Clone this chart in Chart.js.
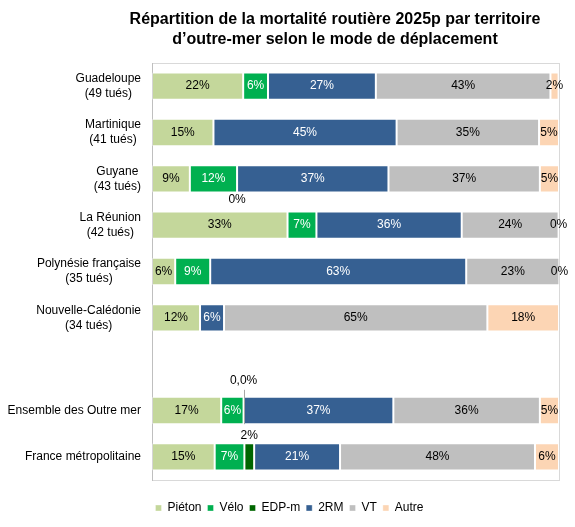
<!DOCTYPE html>
<html lang="fr">
<head>
<meta charset="utf-8">
<title>Mortalité routière outre-mer 2025p</title>
<script src="https://cdn.jsdelivr.net/npm/chart.js@4.4.1/dist/chart.umd.min.js"></script>
<style>
  html, body { margin: 0; padding: 0; background: #fff; }
</style>
</head>
<body>
<canvas id="chart" width="575" height="527"></canvas>
<script>
/** Territories (one empty row separates the overseas totals) */
const territories = [
  ['Guadeloupe', '(49 tués)'],
  ['Martinique', '(41 tués)'],
  ['Guyane', '(43 tués)'],
  ['La Réunion', '(42 tués)'],
  ['Polynésie française', '(35 tués)'],
  ['Nouvelle-Calédonie', '(34 tués)'],
  [],
  ['Ensemble des Outre mer'],
  ['France métropolitaine'],
];
/** Share of killed people (%) by travel mode */
const pieton = [22.4, 15.1, 9.3, 33.3, 5.7, 11.8, null, 17.0, 15.4];
const velo = [6.1, null, 11.6, 7.1, 8.6, null, null, 5.5, 7.3];
const edpm = [null, null, 0, null, null, null, null, 0, 2.4];
const deuxRoues = [26.5, 45.0, 37.2, 35.7, 62.9, 5.9, null, 36.8, 21.1];
const vt = [42.9, 35.0, 37.2, 23.8, 22.9, 64.7, null, 36.0, 47.9];
const autre = [2.0, 4.9, 4.7, 0, 0, 17.6, null, 4.7, 5.9];

const titleLines = [
  'Répartition de la mortalité routière 2025p par territoire',
  'd’outre-mer selon le mode de déplacement',
];

const FONT = '"Liberation Sans", Arial, sans-serif';

/** EDP-m labels that Excel pushed outside the bar: row -> placement */
const edpmOutside = {
  2: {dy: 'below', decimals: 0},
  7: {dy: 'aboveFar', decimals: 1},
  8: {dy: 'above', decimals: 0},
};

const modes = [
  {label: 'Piéton', data: pieton, color: '#C4D79B', text: '#000'},
  {label: 'Vélo', data: velo, color: '#00B050', text: '#fff'},
  {label: 'EDP-m', data: edpm, color: '#006600', text: '#fff'},
  {label: '2RM', data: deuxRoues, color: '#366092', text: '#fff'},
  {label: 'VT', data: vt, color: '#BFBFBF', text: '#000'},
  {label: 'Autre', data: autre, color: '#FCD5B4', text: '#000'},
];

/** Title drawn by hand so it can sit where Excel put it */
const titlePlugin = {
  id: 'excelTitle',
  afterDraw(chart) {
    const ctx = chart.ctx;
    ctx.save();
    ctx.font = 'bold 16px ' + FONT;
    ctx.fillStyle = '#000';
    ctx.textAlign = 'center';
    ctx.textBaseline = 'middle';
    titleLines.forEach((line, i) => ctx.fillText(line, 335, 20 + i * 20));
    ctx.restore();
  }
};

/** Plot area frame */
const framePlugin = {
  id: 'frame',
  beforeDatasetsDraw(chart) {
    const {ctx, chartArea: a} = chart;
    ctx.save();
    ctx.strokeStyle = '#D9D9D9';
    ctx.lineWidth = 1;
    ctx.strokeRect(a.left + 0.5, a.top + 0.5, a.right - a.left, a.bottom - a.top);
    ctx.strokeStyle = '#BFBFBF';
    ctx.beginPath();
    ctx.moveTo(a.left + 0.5, a.top);
    ctx.lineTo(a.left + 0.5, a.bottom + 1);
    ctx.stroke();
    ctx.restore();
  }
};

/** Territory labels: block right aligned, lines centred inside the block */
const yLabelsPlugin = {
  id: 'yLabels',
  afterDraw(chart) {
    const {ctx, scales: {y}} = chart;
    ctx.save();
    ctx.font = '12px ' + FONT;
    ctx.fillStyle = '#000';
    ctx.textAlign = 'center';
    ctx.textBaseline = 'middle';
    territories.forEach((lines, i) => {
      if (!lines.length) return;
      const block = Math.max(...lines.map(l => ctx.measureText(l).width));
      const cx = chart.chartArea.left - 11 - block / 2;
      const cy = y.getPixelForValue(i);
      lines.forEach((line, k) => {
        ctx.fillText(line, cx, cy + (k - (lines.length - 1) / 2) * 15);
      });
    });
    ctx.restore();
  }
};

const formatPct = (v, decimals) => v.toFixed(decimals).replace('.', ',') + '%';

/** Value labels inside / next to each segment */
const valueLabelsPlugin = {
  id: 'valueLabels',
  afterDatasetsDraw(chart) {
    const ctx = chart.ctx;
    ctx.save();
    ctx.font = '12px ' + FONT;
    ctx.textAlign = 'center';
    ctx.textBaseline = 'middle';
    modes.forEach((mode, d) => {
      const meta = chart.getDatasetMeta(d);
      meta.data.forEach((el, i) => {
        const v = mode.data[i];
        if (v === null || v === undefined) return;
        const h = el.height;
        let x = (el.x + el.base) / 2;
        let y = el.y;
        let color = mode.text;
        let text = formatPct(v, 0);
        if (mode.label === 'EDP-m' && edpmOutside[i]) {
          const place = edpmOutside[i];
          text = formatPct(v, place.decimals);
          color = '#000';
          if (place.dy === 'below') {
            y = el.y + h / 2 + 7;
          } else if (place.dy === 'above') {
            y = el.y - h / 2 - 7;
          } else {
            y = el.y - h / 2 - 16;
            ctx.strokeStyle = '#A6A6A6';
            ctx.lineWidth = 1;
            ctx.beginPath();
            ctx.moveTo(Math.round(x) + 0.5, y + 9);
            ctx.lineTo(Math.round(x) + 0.5, el.y + h / 2);
            ctx.stroke();
          }
        } else if (v === 0) {
          x = el.x;
        }
        ctx.fillStyle = color;
        ctx.fillText(text, x, y);
      });
    });
    ctx.restore();
  }
};

new Chart(document.getElementById('chart'), {
  type: 'bar',
  data: {
    labels: territories,
    datasets: modes.map(m => ({
      label: m.label,
      data: m.data,
      backgroundColor: m.color,
      borderColor: 'rgba(255,255,255,0.35)',
      borderWidth: 1,
      borderSkipped: false,
      barPercentage: 0.59,
      categoryPercentage: 1,
    })),
  },
  options: {
    responsive: false,
    animation: false,
    indexAxis: 'y',
    layout: {
      padding: {top: 63, right: 16, bottom: 3, left: 20},
    },
    scales: {
      x: {
        stacked: true,
        min: 0,
        max: 100,
        grid: {display: false},
        border: {display: false},
        ticks: {display: false},
        afterFit: (scale) => { scale.height = 16; },
      },
      y: {
        stacked: true,
        grid: {display: false},
        border: {display: false},
        ticks: {display: false},
        afterFit: (scale) => { scale.width = 132; },
      },
    },
    plugins: {
      legend: {
        position: 'bottom',
        labels: {
          boxWidth: 6,
          boxHeight: 6,
          padding: 6,
          color: '#000',
          font: {family: FONT, size: 12},
        },
      },
      tooltip: {enabled: false},
    },
  },
  plugins: [framePlugin, valueLabelsPlugin, yLabelsPlugin, titlePlugin],
});
</script>
</body>
</html>
